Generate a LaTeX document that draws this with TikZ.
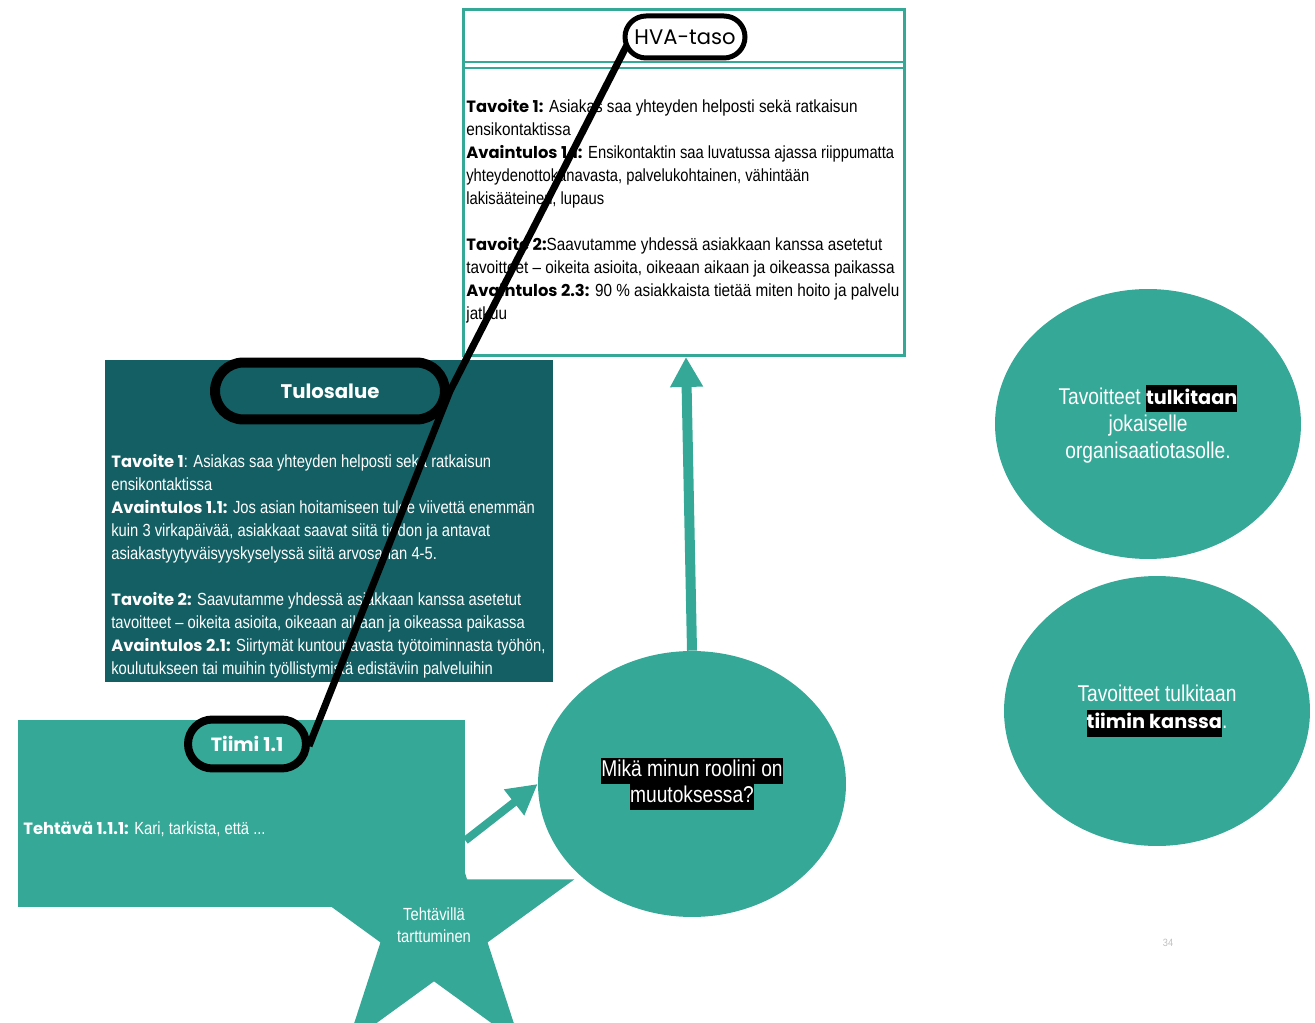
\documentclass[tikz,border=0pt]{standalone}
\usepackage{fontspec}
\setmainfont{Liberation Sans}[FakeStretch=0.87]
\newfontfamily\headfont{Poppins}
\newfontfamily\narrowfont[FakeStretch=0.84]{Liberation Sans}
\usetikzlibrary{arrows.meta,shapes.geometric,shapes.misc}
\definecolor{tealA}{HTML}{36A898}
\definecolor{tealD}{HTML}{135F63}
\newcommand{\hd}[1]{{\headfont\bfseries\fontsize{9.3}{13.1}\selectfont #1}}
\newcommand{\nf}[1]{{\narrowfont #1}}
\newcommand{\hl}[1]{{\setlength{\fboxsep}{0pt}\colorbox{black}{\strut #1}}}

\begin{document}
\begin{tikzpicture}[x=0.02cm,y=-0.02cm,
  pill node/.style={rounded rectangle,draw=black,inner sep=0pt,
    font=\headfont\bfseries},
  box node/.style={rectangle,inner sep=0pt},
  oval node/.style={ellipse,fill=tealA,inner sep=0pt,text=white,
    align=center,minimum width=6.12cm,minimum height=5.4cm},
  body text/.style={inner sep=0pt,align=left,anchor=north west,
    font=\fontsize{10}{13.1}\selectfont},
  teal arrow/.style={draw=tealA,-{Triangle[length=0.6cm,width=0.62cm]}}]

  \useasboundingbox (0,0) rectangle (1315,1023);

  % boxes
  \node[box node,draw=tealA,line width=0.06cm,minimum width=8.82cm,
    minimum height=6.92cm] (hva) at (684,182.5) {};
  \draw[tealA,line width=0.05cm] (hva.west |- 0,62) -- (hva.east |- 0,62)
    (hva.west |- 0,68) -- (hva.east |- 0,68);
  \node[box node,fill=tealD,minimum width=8.96cm,minimum height=6.44cm]
    (tulos) at (329,521) {};
  \node[star,star points=5,star point ratio=2.618,fill=tealA,inner sep=0pt,
    minimum size=5.9cm,text=white,align=center,
    font=\narrowfont\fontsize{10}{12.5}\selectfont] (grab) at (434,925)
    {Tehtävillä\\tarttuminen};
  \node[box node,fill=tealA,minimum width=8.94cm,minimum height=3.74cm]
    (tiimi) at (241.5,813.5) {};

  % texts in the boxes
  \node[body text] (hvatext) at (466,99) {%
    \hd{Tavoite 1:} Asiakas saa  yhteyden helposti sekä ratkaisun\\
    ensikontaktissa\\
    \hd{Avaintulos 1.1:} \nf{Ensikontaktin saa luvatussa ajassa riippumatta}\\
    \nf{yhteydenottokanavasta, palvelukohtainen, vähintään}\\
    \nf{lakisääteinen, lupaus}\\[0.46cm]
    \hd{Tavoite 2:}Saavutamme yhdessä asiakkaan kanssa asetetut\\
    tavoitteet – oikeita asioita, oikeaan aikaan ja oikeassa paikassa\\
    \hd{Avaintulos 2.3:} 90 \% asiakkaista tietää miten hoito ja palvelu\\
    jatkuu};
  \node[body text,text=white,font=\narrowfont\fontsize{10}{13.1}\selectfont]
    (tulostext) at (111,454) {%
    \hd{Tavoite 1}: Asiakas saa  yhteyden helposti sekä ratkaisun\\
    ensikontaktissa\\
    \hd{Avaintulos 1.1:} Jos asian hoitamiseen tulee viivettä enemmän\\
    kuin 3 virkapäivää, asiakkaat saavat siitä tiedon ja antavat\\
    asiakastyytyväisyyskyselyssä siitä arvosanan 4-5.\\[0.46cm]
    \hd{Tavoite 2:}  Saavutamme yhdessä asiakkaan kanssa asetetut\\
    tavoitteet – oikeita asioita, oikeaan aikaan ja oikeassa paikassa\\
    \hd{Avaintulos 2.1:} Siirtymät kuntouttavasta työtoiminnasta työhön,\\
    koulutukseen tai muihin työllistymistä edistäviin palveluihin};
  \node[body text,anchor=west,text=white,
    font=\narrowfont\fontsize{10}{13.1}\selectfont] (tiimitext) at (23,829)
    {\hd{Tehtävä 1.1.1:} Kari, tarkista, että ...};

  % ovals
  \node[oval node,minimum width=6.16cm,minimum height=5.32cm,
    font=\narrowfont\fontsize{13}{14.7}\selectfont] (role) at (692,784)
    {\hl{Mikä minun roolini on}\\\hl{muutoksessa?}};
  \node[oval node,font=\narrowfont\fontsize{13}{15.4}\selectfont]
    (levels) at (1148,424)
    {Tavoitteet \hl{\headfont\bfseries\fontsize{11}{15.4}\selectfont tulkitaan}\\jokaiselle\\organisaatiotasolle.};
  \node[oval node,font=\narrowfont\fontsize{13}{15.4}\selectfont]
    (team) at (1157,711)
    {Tavoitteet tulkitaan\\\hl{\headfont\bfseries\fontsize{11}{15.4}\selectfont tiimin kanssa}.};

  % arrows
  \draw[teal arrow,line width=0.2cm] (role.north) -- ([xshift=0.04cm]hva.south);
  \draw[teal arrow,line width=0.16cm] ([yshift=-0.54cm]tiimi.east) -- (role.west);

  % pills and the line through them
  \coordinate (hvapos) at (685,37);
  \coordinate (tulospos) at (330,391);
  \coordinate (tiimipos) at (247,744);
  \draw[black,line width=0.14cm] (tiimipos) ++(62,2) -- ++(141,-355)
    -- ++(178,-348);
  \node[pill node,fill=white,line width=0.1cm,minimum width=2.4cm,
    minimum height=0.84cm,font=\headfont\fontsize{12}{14}\selectfont]
    (hvapill) at (hvapos) {HVA-taso};
  \node[pill node,fill=tealD,text=white,line width=0.2cm,minimum width=4.6cm,
    minimum height=1.14cm,font=\headfont\bfseries\fontsize{11.2}{14}\selectfont]
    (tulospill) at (tulospos) {Tulosalue};
  \node[pill node,fill=tealA,text=white,line width=0.16cm,minimum width=2.36cm,
    minimum height=0.98cm,font=\headfont\bfseries\fontsize{10.9}{14}\selectfont]
    (tiimipill) at (tiimipos) {Tiimi 1.1};

  \node[text=black!25,font=\fontsize{6}{7}\selectfont] (page) at (1168,943) {34};
\end{tikzpicture}
\end{document}
